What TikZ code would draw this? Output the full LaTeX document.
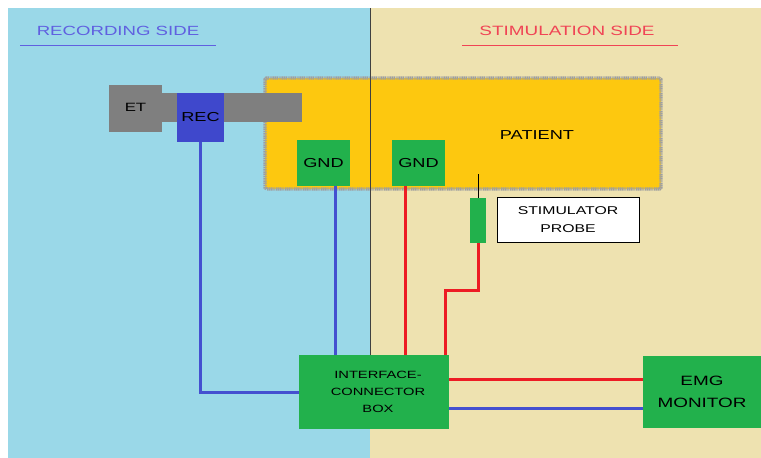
\documentclass[tikz,border=0pt]{standalone}
\usepackage{fontspec}
\setmainfont{Liberation Sans}
\newfontfamily\cg[FakeStretch=1.4]{Liberation Sans}
\definecolor{bgblue}{HTML}{9AD8E8}
\definecolor{bgbeige}{HTML}{EEE2B0}
\definecolor{pyellow}{HTML}{FDC80F}
\definecolor{egreen}{HTML}{22B14C}
\definecolor{egray}{HTML}{7F7F7F}
\definecolor{recblue}{HTML}{3F48CC}
\definecolor{wblue}{HTML}{4450D0}
\definecolor{wred}{HTML}{ED1C24}
\definecolor{tblue}{HTML}{6060E0}
\definecolor{tred}{HTML}{F04455}
\begin{document}
\begin{tikzpicture}[x=1pt,y=-1pt,
  box/.style={anchor=north west,inner sep=0pt,outer sep=0pt,align=center,font=\cg},
  gbox/.style={box,fill=egreen},
  bwire/.style={draw=wblue,line width=3pt},
  rwire/.style={draw=wred,line width=3pt}]
\useasboundingbox (0,0) rectangle (761,458);
\fill[white] (0,0) rectangle (761,458);
\fill[bgblue] (8,8) rectangle (370,458);
\fill[bgbeige] (370,8) rectangle (761,458);
% titles
\node[font=\cg\fontsize{13.3}{15}\selectfont,text=tblue] (rtitle) at (118,31) {RECORDING SIDE};
\draw[tblue,line width=1pt] (20,45) -- (216,45);
\node[font=\cg\fontsize{13.5}{15}\selectfont,text=tred] (stitle) at (567,31) {STIMULATION SIDE};
\draw[tred,line width=1pt] (462,45) -- (678,45);
% patient
\node[box,fill=pyellow,draw=gray!75,line width=3.2pt,dash pattern=on 1.2pt off 0.6pt,rounded corners=1.5pt,
  minimum width=396pt,minimum height=111pt] (patient) at (265,78) {};
\node[font=\cg\fontsize{13}{15}\selectfont] (ptxt) at (537,135) {PATIENT};
% divider
\draw[black!75,line width=0.9pt] (370,8) -- (370,355);
% tube and ET
\node[box,fill=egray,minimum width=140pt,minimum height=29pt] (tube) at (162,93) {};
\node[box,fill=egray,minimum width=53pt,minimum height=47pt,font=\cg\fontsize{12}{14}\selectfont] (et) at (109,85) {\raisebox{2pt}{ET}};
\node[box,fill=recblue,minimum width=47pt,minimum height=49pt,font=\cg\fontsize{13}{15}\selectfont] (rec) at (177,93) {\raisebox{-6pt}{REC}};
% GNDs
\node[gbox,minimum width=53pt,minimum height=46pt,font=\cg\fontsize{13}{15}\selectfont] (gnd1) at (297,140) {\raisebox{-1pt}{GND}};
\node[gbox,minimum width=53pt,minimum height=46pt,font=\cg\fontsize{13}{15}\selectfont] (gnd2) at (392,140) {\raisebox{1pt}{GND}};
% stimulator probe
\coordinate (ptip) at (478,174);
\node[gbox,minimum width=16pt,minimum height=45pt] (probe) at (470,198) {};
\draw[black,line width=0.8pt] (ptip) -- (probe.north);
\node[box,fill=white,draw=black,line width=0.8pt,minimum width=142pt,minimum height=45pt,
  font=\cg\fontsize{11.3}{18}\selectfont] (plabel) at (497,197) {STIMULATOR\\PROBE};
% interface box and monitor
\node[gbox,minimum width=150pt,minimum height=74pt,font=\cg\fontsize{10.5}{17}\selectfont] (icb) at (299,355) {\hspace*{8pt}INTERFACE-\\\hspace*{8pt}CONNECTOR\\\hspace*{8pt}BOX};
\node[gbox,minimum width=118pt,minimum height=72pt,font=\cg\fontsize{13.5}{22}\selectfont] (emg) at (643,356) {EMG\\MONITOR};
% wires
\coordinate (g1w) at (335,186);
\coordinate (g2w) at (405,186);
\draw[bwire] (rec.south) |- (icb.west);
\draw[bwire] (g1w) -- (g1w |- icb.north);
\draw[rwire] (g2w) -- (g2w |- icb.north);
\coordinate (pbend) at (478,290);
\coordinate (pin) at (445,290);
\draw[rwire] (probe.south) -- (pbend) -- (pin) -- (pin |- icb.north);
\coordinate (rout) at (449,379);
\coordinate (bout) at (449,408);
\draw[rwire] (rout) -- (rout -| emg.west);
\draw[bwire] (bout) -- (bout -| emg.west);
\end{tikzpicture}
\end{document}
